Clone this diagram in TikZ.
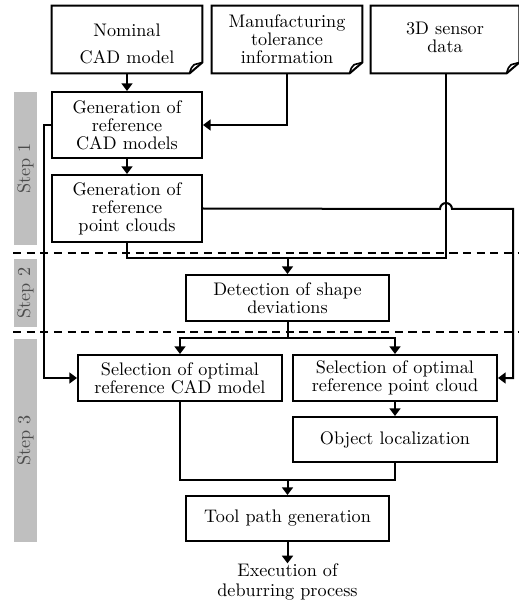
\documentclass[tikz,border=0pt]{standalone}
\usetikzlibrary{arrows.meta}
\newcommand\docshape[1]{%
  \draw[boxline] (#1.north west) -- (#1.north east) -- ([yshift=6pt]#1.south east)
    -- ([xshift=-7pt]#1.south east) -- (#1.south west) -- cycle;
  \draw[boxline,line width=0.9pt,line join=round] ([xshift=-7pt]#1.south east) .. controls ([xshift=-6.2pt,yshift=3pt]#1.south east) .. ([xshift=-4.5pt,yshift=4.8pt]#1.south east) -- ([yshift=6pt]#1.south east);}
\begin{document}
\begin{tikzpicture}[x=0.55pt,y=-0.55pt,
  every node/.style={font=\fontsize{10}{9.9}\selectfont},
  boxline/.style={line width=1.1pt},
  procbox/.style={draw,line width=1.1pt,align=center,inner sep=0pt},
  docbox/.style={align=center,inner sep=0pt,minimum width=82.5pt,minimum height=36.85pt},
  conn/.style={line width=1.1pt},
  arr/.style={line width=1.1pt,-{Triangle[width=6pt,length=4.2pt]}},
  stepbar/.style={fill=black!25,draw=none},
  steptext/.style={rotate=90,text=black!70},
  sep/.style={line width=0.9pt,dash pattern=on 4.5pt off 3pt}]
\useasboundingbox (0,0) rectangle (518,603);
% step bars
\fill[black!25] (14,92) rectangle (37,245);
\fill[black!25] (14,259) rectangle (37,327);
\fill[black!25] (14,339) rectangle (37,542);
\node[steptext] (s1) at (25.5,168.5) {Step 1};
\node[steptext] (s2) at (25.5,293) {Step 2};
\node[steptext] (s3) at (25.5,440.5) {Step 3};
% document boxes
\node[docbox] (nom) at (127,39.5) {};
\node (nomt) at (127,43.5) [align=center] {Nominal\\[4.9pt]CAD model};
\node[docbox] (man) at (287,39.5) {Manufacturing\\tolerance\\information};
\node[docbox,minimum width=81.4pt] (sen) at (445,39.5) {};
\node (sent) at (445,37.5) [align=center] {3D sensor\\data};
\docshape{nom}
\docshape{man}
\docshape{sen}
% process boxes
\node[procbox,minimum width=82.5pt,minimum height=36.3pt] (gcad) at (127,125) {Generation of\\reference\\CAD models};
\node[procbox,minimum width=82.5pt,minimum height=36.85pt] (gpc) at (127,208.5) {Generation of\\reference\\point clouds};
\node[procbox,minimum width=111.65pt,minimum height=25.3pt] (det) at (287.5,298) {Detection of shape\\deviations};
\node[procbox,minimum width=112.2pt,minimum height=25.3pt] (scad) at (180,378) {Selection of optimal\\reference CAD model};
\node[procbox,minimum width=112.2pt,minimum height=25.3pt] (spc) at (395,378) {Selection of optimal\\reference point cloud};
\node[procbox,minimum width=112.2pt,minimum height=24.75pt] (obj) at (395,439.5) {Object localization};
\node[procbox,minimum width=111.65pt,minimum height=24.75pt] (tool) at (287.5,518.5) {Tool path generation};
\node[align=center,inner sep=0pt,font=\fontsize{10}{11}\selectfont] (exec) at (287.5,582) {Execution of\\deburring process};
% separators
\draw[sep] (13,253) -- (518,253);
\draw[sep] (13,332) -- (518,332);
% connectors
\draw[arr] (nom.south -| gcad.north) -- (gcad.north);
\draw[arr] (man.south) |- (gcad.east);
\draw[arr] (gcad.west) -- (44,125) |- (scad.west);
\draw[arr] (gcad.south) -- (gpc.north);
\draw[arr] (gpc.east) -- (440,209) arc[start angle=180,end angle=0,radius=3.3pt] -- (513,209) |- (spc.east);
\coordinate (j1) at (287.5,258);
\draw[conn] (sen.south -| 446,0) -- (446,258) -- (127,258) -- (gpc.south);
\draw[arr] (j1) -- (det.north);
\coordinate (j2) at (287.5,338);
\draw[conn] (det.south) -- (j2);
\draw[arr] (j2) -| (scad.north);
\draw[arr] (j2) -| (spc.north);
\draw[arr] (spc.south) -- (obj.north);
\coordinate (j3) at (287.5,480);
\draw[conn] (scad.south) |- (j3) -| (obj.south);
\draw[arr] (j3) -- (tool.north);
\draw[arr] (tool.south) -- (exec.north);
\end{tikzpicture}
\end{document}
